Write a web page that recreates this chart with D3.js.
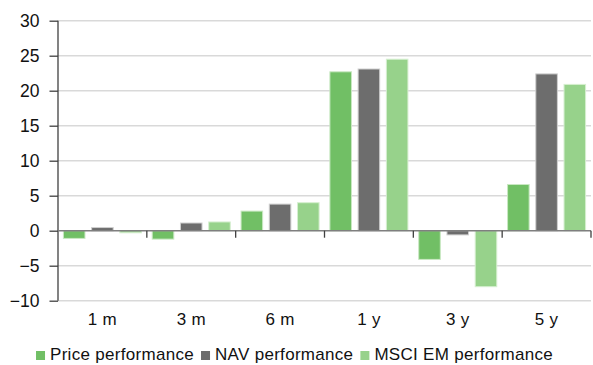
<!DOCTYPE html>
<html>
<head>
<meta charset="utf-8">
<script src="https://cdn.jsdelivr.net/npm/d3@7"></script>
<style>
  html, body { margin: 0; padding: 0; background: #fff; }
  svg { display: block; font-family: "Liberation Sans", Arial, sans-serif; }
</style>
</head>
<body>
<svg id="chart" width="593" height="365"></svg>
<script>
// Performance periods and the three compared series (%)
const periods = ["1 m", "3 m", "6 m", "1 y", "3 y", "5 y"];
const seriesNames = ["Price performance", "NAV performance", "MSCI EM performance"];
const pricePerf = [-1.1, -1.2, 2.8, 22.7, -4.1, 6.6];
const navPerf = [0.45, 1.1, 3.8, 23.1, -0.6, 22.4];
const msciPerf = [-0.3, 1.25, 4.0, 24.5, -8.0, 20.9];
const yTicks = [-10, -5, 0, 5, 10, 15, 20, 25, 30];
const colors = ["#71bf65", "#6d6d6d", "#97d28b"];
const strokes = ["#c9e8c2", "#cfcfcf", "#d6efd0"];

const seriesValues = [pricePerf, navPerf, msciPerf];

const svg = d3.select("#chart");
const plotLeft = 58, plotRight = 591, plotTop = 20.7, plotBottom = 300.7;
const fontFamily = "'Liberation Sans', Arial, sans-serif";

const y = d3.scaleLinear().domain([-10, 30]).range([plotBottom, plotTop]);
const x0 = d3.scaleBand().domain(periods).range([plotLeft, plotRight]).padding(0);
const groupPad = 5.4;
const x1 = d3.scaleBand().domain(d3.range(3))
  .range([groupPad, x0.bandwidth() - groupPad]).paddingInner(0.236).paddingOuter(0);

// Gridlines (every tick except zero, which is the category axis)
svg.append("g")
  .selectAll("line")
  .data(yTicks.filter(d => d !== 0))
  .join("line")
  .attr("x1", plotLeft).attr("x2", plotRight)
  .attr("y1", d => y(d)).attr("y2", d => y(d))
  .attr("stroke", "#d9d9d9").attr("stroke-width", 1.5);

// Bars
const groups = svg.append("g")
  .selectAll("g")
  .data(periods)
  .join("g")
  .attr("transform", d => `translate(${x0(d)},0)`);

groups.selectAll("rect")
  .data((p, i) => seriesValues.map((vals, s) => ({ s, v: vals[i] })))
  .join("rect")
  .attr("x", d => x1(d.s))
  .attr("width", x1.bandwidth())
  .attr("y", d => y(Math.max(0, d.v)))
  .attr("height", d => Math.abs(y(d.v) - y(0)))
  .attr("fill", d => colors[d.s])
  .attr("stroke", d => strokes[d.s])
  .attr("stroke-width", 1);

// Y axis
const yAxis = d3.axisLeft(y).tickValues(yTicks).tickSize(8.5).tickPadding(10);
const gy = svg.append("g").attr("transform", `translate(${plotLeft},0)`).call(yAxis);
gy.select(".domain").attr("stroke", "#404040").attr("stroke-width", 1.3)
  .attr("d", `M0,${plotTop}V${plotBottom}`);
gy.selectAll(".tick line").attr("stroke", "#404040").attr("stroke-width", 1.3);
gy.selectAll(".tick text").attr("font-size", 17.5).attr("fill", "#111")
  .attr("font-family", fontFamily);

// Category axis along zero
const gx = svg.append("g").attr("transform", `translate(0,${y(0)})`);
gx.append("line").attr("x1", plotLeft).attr("x2", plotRight)
  .attr("stroke", "#7f7f7f").attr("stroke-width", 1.5);
const boundaries = periods.map(p => x0(p) + x0.bandwidth());
gx.selectAll("line.tk").data(boundaries).join("line").attr("class", "tk")
  .attr("x1", d => d).attr("x2", d => d).attr("y1", 0).attr("y2", 7)
  .attr("stroke", "#404040").attr("stroke-width", 1.3);

svg.append("g").selectAll("text")
  .data(periods)
  .join("text")
  .attr("x", d => x0(d) + x0.bandwidth() / 2)
  .attr("y", 324.5)
  .attr("text-anchor", "middle")
  .attr("font-size", 17).attr("letter-spacing", 0.3).attr("fill", "#111")
  .text(d => d);

// Legend
const legend = svg.append("g");
const items = legend.selectAll("g").data(seriesNames).join("g");
items.append("rect").attr("width", 9).attr("height", 9).attr("y", 351)
  .attr("fill", (d, i) => colors[i]);
items.append("text").attr("x", 14).attr("y", 359.8)
  .attr("font-size", 17).attr("letter-spacing", 0.3).attr("fill", "#111").text(d => d);
const widths = [];
items.each(function () {
  widths.push(14 + d3.select(this).select("text").node().getComputedTextLength());
});
const itemGap = 7;
const total = d3.sum(widths) + itemGap * (widths.length - 1);
let cx = 294.5 - total / 2;
items.each(function (d, i) {
  d3.select(this).attr("transform", `translate(${cx},0)`);
  cx += widths[i] + itemGap;
});
</script>
</body>
</html>
